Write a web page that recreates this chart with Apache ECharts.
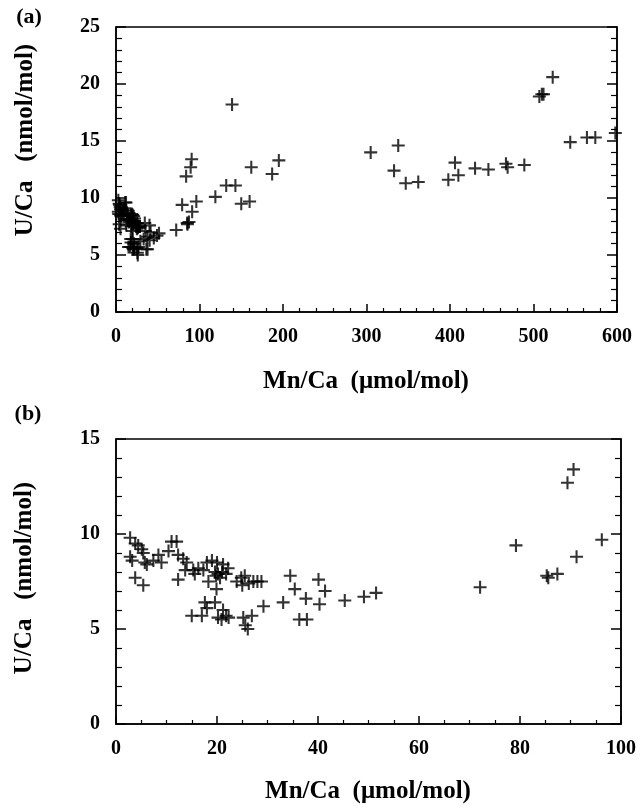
<!DOCTYPE html>
<html>
<head>
<meta charset="utf-8">
<script src="https://cdn.jsdelivr.net/npm/echarts@6/dist/echarts.min.js"></script>
<style>
  html, body { margin: 0; padding: 0; background: #fff; }
  #chart { width: 640px; height: 808px; }
</style>
</head>
<body>
<div id="chart"></div>
<script>
// Mn/Ca (umol/mol), U/Ca (nmol/mol) pairs, below 100 umol/mol (shown in both panels)
const lowMnPoints = [
  [2.8, 9.8], [3.8, 9.5], [4.4, 9.4], [5.1, 9.2], [5.4, 9.0], [2.8, 8.8], [3.2, 8.6],
  [5.7, 8.5], [3.8, 7.7], [5.4, 7.3], [6.1, 8.4], [7.4, 8.6], [8.4, 8.9], [9.0, 8.5],
  [10.4, 9.1], [11.0, 9.6], [12.0, 9.6], [12.3, 8.9], [13.3, 8.7], [14.0, 8.5], [13.7, 8.1],
  [12.3, 7.6], [15.3, 8.1], [16.3, 8.2], [17.3, 8.1], [15.6, 7.9], [18.0, 8.5], [19.0, 8.6],
  [20.0, 8.5], [21.2, 8.4], [22.2, 8.2], [19.6, 8.0], [20.2, 7.9], [20.6, 7.7], [21.0, 8.0],
  [19.8, 7.8], [18.3, 7.5], [19.9, 7.1], [21.8, 7.9], [23.9, 7.5], [24.8, 7.7], [25.5, 7.8],
  [26.3, 7.4], [27.2, 7.5], [28.0, 7.5], [28.8, 7.5], [25.0, 7.3], [29.2, 6.2], [15.0, 5.7],
  [17.0, 5.7], [17.6, 6.4], [18.0, 6.1], [19.6, 6.4], [20.2, 5.6], [20.9, 5.5], [21.8, 5.7],
  [22.3, 5.6], [21.2, 6.0], [25.2, 5.6], [25.6, 5.2], [26.1, 5.0], [26.9, 5.7], [34.5, 7.8],
  [35.4, 7.1], [40.1, 7.6], [41.4, 7.0], [37.6, 6.6], [40.3, 6.3], [33.1, 6.4], [36.3, 5.5],
  [37.8, 5.5], [45.3, 6.5], [49.1, 6.7], [51.5, 6.9], [72.1, 7.2], [79.2, 9.4], [85.3, 7.8],
  [85.6, 7.7], [87.4, 7.9], [91.2, 8.8], [89.4, 12.7], [90.6, 13.4], [96.2, 9.7]
];

// points above 100 umol/mol (panel a only)
const highMnPoints = [
  [84, 11.9], [119, 10.1], [132, 11.1], [143, 11.1], [139, 18.2], [150, 9.5], [160, 9.7],
  [162, 12.7], [187, 12.1], [195, 13.3], [305, 14.0], [333, 12.4], [338, 14.6], [347, 11.3],
  [362, 11.4], [398, 11.6], [406, 13.1], [410, 12.0], [430, 12.6], [446, 12.5], [467, 13.0],
  [469, 12.7], [489, 12.9], [507, 18.9], [510, 19.1], [512, 19.1], [523, 20.6], [544, 14.9],
  [564, 15.3], [574, 15.3], [598, 15.7]
];

const xTitle = 'Mn/Ca  (\u03bcmol/mol)';
const yTitle = 'U/Ca   (nmol/mol)';
const panelLabels = ['(a)', '(b)'];

const FONT = '"Liberation Serif", "DejaVu Serif", serif';
const plus = 'path://M4.2,0H5.8V4.2H10V5.8H5.8V10H4.2V5.8H0V4.2H4.2Z';

const line = { color: '#000', width: 1.5 };

const xAxisOf = (grid, max, interval, minorSplit) => ({
  gridIndex: grid, type: 'value', min: 0, max: max, interval: interval,
  axisLine: { lineStyle: line },
  axisTick: { inside: true, length: 8, lineStyle: line },
  minorTick: { show: true, splitNumber: minorSplit, length: 4, lineStyle: { color: '#000', width: 1.2 } },
  axisLabel: { color: '#000', fontFamily: FONT, fontWeight: 'bold', fontSize: 20, margin: 15 },
  splitLine: { show: false }
});

const yAxisOf = (grid, max, right) => ({
  gridIndex: grid, type: 'value', min: 0, max: max, interval: 5,
  position: right ? 'right' : 'left',
  axisLine: { show: true, lineStyle: line },
  axisTick: { show: true, inside: true, length: 10, lineStyle: line },
  minorTick: { show: true, splitNumber: 5, length: 6, lineStyle: { color: '#000', width: 1.2 } },
  axisLabel: { show: !right, color: '#000', fontFamily: FONT, fontWeight: 'bold', fontSize: 20, margin: 16 },
  splitLine: { show: false }
});

const textEl = (text, x, y, size, rotate) => ({
  type: 'text', x: x, y: y, rotation: rotate ? Math.PI / 2 : 0,
  style: { text: text, fill: '#000', font: 'bold ' + size + 'px ' + FONT, align: 'center', verticalAlign: 'middle' }
});

const chart = echarts.init(document.getElementById('chart'));
chart.setOption({
  animation: false,
  backgroundColor: '#fff',
  grid: [
    { left: 116, top: 27, width: 501, height: 285, show: true, borderColor: '#000', borderWidth: 1.5 },
    { left: 116, top: 439, width: 505, height: 285, show: true, borderColor: '#000', borderWidth: 1.5 }
  ],
  xAxis: [xAxisOf(0, 600, 100, 5), xAxisOf(1, 100, 20, 4)],
  yAxis: [yAxisOf(0, 25, false), yAxisOf(1, 15, false), yAxisOf(0, 25, true), yAxisOf(1, 15, true)],
  series: [
    {
      type: 'scatter', xAxisIndex: 0, yAxisIndex: 0,
      data: lowMnPoints.concat(highMnPoints),
      symbol: plus, symbolSize: 13, itemStyle: { color: '#000' }
    },
    {
      type: 'scatter', xAxisIndex: 1, yAxisIndex: 1,
      data: lowMnPoints,
      symbol: plus, symbolSize: 13, itemStyle: { color: '#000' }
    }
  ],
  graphic: [
    textEl(panelLabels[0], 29, 17, 22),
    textEl(panelLabels[1], 28, 414, 22),
    textEl(yTitle, 26, 140, 25, true),
    textEl(yTitle, 25, 578, 25, true),
    textEl(xTitle, 366, 382, 25),
    textEl(xTitle, 368, 792, 25)
  ]
});
</script>
</body>
</html>
